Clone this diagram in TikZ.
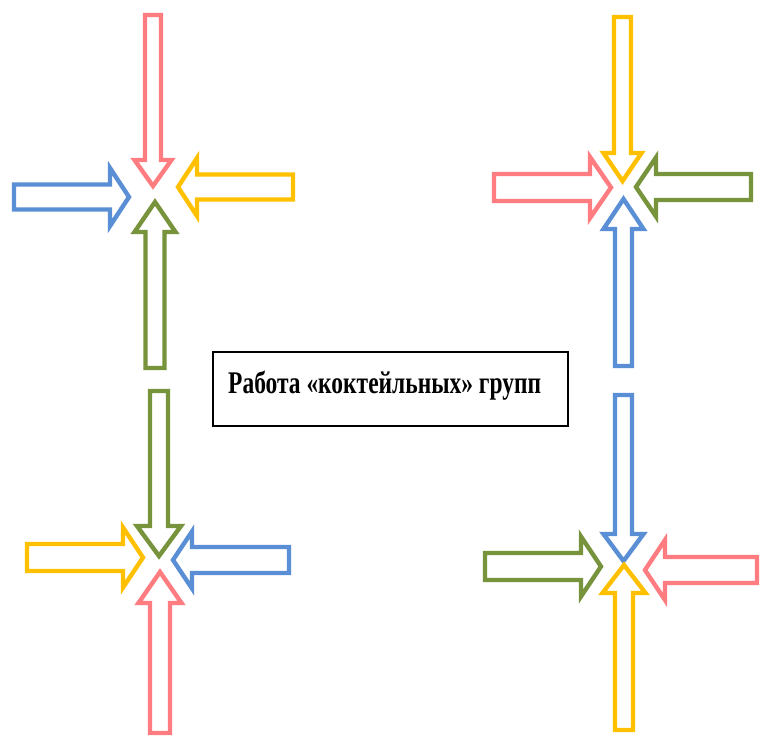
\documentclass[tikz,border=0pt]{standalone}
\usepackage{fontspec}
\usepackage{graphicx}
\setmainfont{Liberation Serif}
\definecolor{arrred}{HTML}{FF7C80}
\definecolor{arrblue}{HTML}{5B8FD5}
\definecolor{arryellow}{HTML}{FFC000}
\definecolor{arrgreen}{HTML}{77933C}
\tikzset{
  arrowline/.style={line width=4.4pt,fill=white},
  titlebox/.style={draw,line width=1.4pt,minimum width=355pt,minimum height=74pt,inner sep=0pt}
}
% colour, tip, direction, length, shaft half width, head half width, head length
\newcommand{\blockarrow}[7]{%
  \draw[arrowline,draw=#1,shift={(#2)},rotate=#3] (0,0) -- (-#7,-#6) -- (-#7,-#5) -- (-#4,-#5)
    -- (-#4,#5) -- (-#7,#5) -- (-#7,#6) -- cycle;}
\begin{document}
\begin{tikzpicture}[x=1pt,y=-1pt]
\useasboundingbox[fill=white] (0,0) rectangle (760,737);
% top left
\blockarrow{arrred}{153,186}{-90}{171}{8}{18.5}{26}
\blockarrow{arrblue}{129,197}{0}{115}{12.5}{29}{19}
\blockarrow{arryellow}{178,187}{180}{115}{12.5}{29}{19}
\blockarrow{arrgreen}{155,202}{90}{166}{9.5}{20.5}{30}
% top right
\blockarrow{arryellow}{622.5,181}{-90}{164}{8.5}{19}{28}
\blockarrow{arrred}{611,187.5}{0}{117}{13.5}{30.5}{21}
\blockarrow{arrgreen}{636,187}{180}{115}{13}{29.5}{20}
\blockarrow{arrblue}{623.5,199}{90}{167}{8.5}{20}{30}
% bottom left
\blockarrow{arrgreen}{159,556}{-90}{165}{9}{22}{30}
\blockarrow{arryellow}{143,557.5}{0}{116}{13.5}{30}{20}
\blockarrow{arrblue}{173,560}{180}{116}{13}{28.5}{19}
\blockarrow{arrred}{160,572}{90}{161}{10}{21.5}{31}
% bottom right
\blockarrow{arrblue}{623.5,561}{-90}{166}{8.5}{20}{27}
\blockarrow{arrgreen}{601,566.5}{0}{116}{13.5}{30}{20}
\blockarrow{arrred}{645,570}{180}{112}{13}{30}{20}
\blockarrow{arryellow}{624,565}{90}{165}{9}{21.5}{28}
% title
\node[titlebox] (title) at (390.5,389) {};
\node[anchor=base west,inner sep=0pt] (titletext) at (228,393)
  {\bfseries\fontsize{31.5}{36}\selectfont\scalebox{0.745}[1]{Работа «коктейльных» групп}};
\end{tikzpicture}
\end{document}
